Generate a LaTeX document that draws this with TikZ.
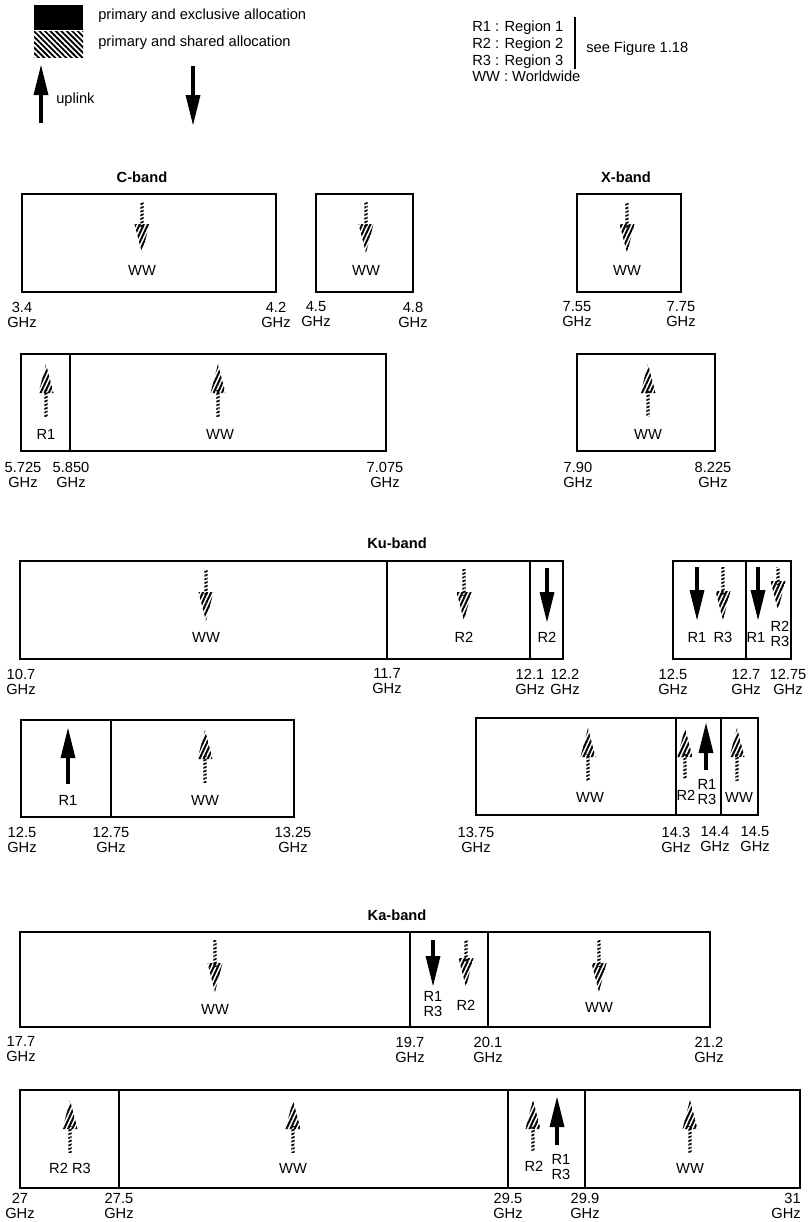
\documentclass[tikz,border=0pt]{standalone}
\usepackage{fontspec}
\setmainfont{Liberation Sans}
\usetikzlibrary{patterns.meta}

\tikzset{
  band/.style={draw, line width=0.9pt},
  txt/.style={inner sep=0pt, font=\fontsize{11}{11.25}\selectfont},
  freq/.style={txt, align=center},
  reg/.style={txt, align=center},
  title/.style={inner sep=0pt, font=\fontsize{11}{12}\selectfont\bfseries},
  headhatch/.style={pattern={Lines[angle=65,distance=2.8pt,line width=1.5pt]}},
  shafthatch/.style={pattern={Lines[angle=20,distance=2.6pt,line width=1.3pt]}},
  boxhatch/.style={pattern={Lines[angle=-45,distance=2.9pt,line width=1.4pt]}},
}

% arrows: x, top, bottom
\newcommand{\hatchdown}[3]{%
  \fill[shafthatch] (#1-1.7,#2) rectangle (#1+1.7,#3-26);
  \fill[headhatch] (#1-7.5,#3-29) -- (#1+7.5,#3-29) -- (#1,#3) -- cycle;}
\newcommand{\hatchup}[3]{%
  \fill[shafthatch] (#1-1.7,#2+26) rectangle (#1+1.7,#3);
  \fill[headhatch] (#1-7.5,#2+29) -- (#1+7.5,#2+29) -- (#1,#2) -- cycle;}
\newcommand{\soliddown}[3]{%
  \fill (#1-1.8,#2) rectangle (#1+1.8,#3-27);
  \fill (#1-7.5,#3-30) -- (#1+7.5,#3-30) -- (#1,#3) -- cycle;}
\newcommand{\solidup}[3]{%
  \fill (#1-1.8,#2+27) rectangle (#1+1.8,#3);
  \fill (#1-7.5,#2+30) -- (#1+7.5,#2+30) -- (#1,#2) -- cycle;}
% frequency label under a band edge
\newcommand{\freq}[4]{\node[freq] (#1) at (#2,#3) {#4\\GHz};}

\begin{document}
\begin{tikzpicture}[x=0.75pt, y=-0.75pt]
\useasboundingbox (0,0) rectangle (810,1222);

% legend
\fill (34,5) rectangle (83,30);
\fill[boxhatch] (34,31) rectangle (83,57);
\node[txt, anchor=west] (excl) at (98,16) {primary and exclusive allocation};
\node[txt, anchor=west] (shared) at (98,43) {primary and shared allocation};
\solidup{41}{65}{123}
\node[txt, anchor=west] (uplink) at (56,100) {uplink};
\soliddown{193}{66}{125}

\node[txt, anchor=north west, align=left, font=\fontsize{11}{12.5}\selectfont] (regions) at (472,21)
  {R1 : Region 1\\R2 : Region 2\\R3 : Region 3\\WW : Worldwide};
\draw[line width=1.3pt] (575,17) -- (575,69);
\node[txt, anchor=west] (seefig) at (586,49) {see Figure 1.18};

% C-band
\node[title] (cband) at (142,177) {C-band};
\draw[band] (22,194) rectangle (276,292);
\draw[band] (316,194) rectangle (413,292);
\hatchdown{142}{202}{253}
\node[reg] (cww1) at (142,270) {WW};
\hatchdown{366}{202}{253}
\node[reg] (cww2) at (366,270) {WW};
\freq{f34}{22}{314.5}{3.4}
\freq{f42}{276}{314.5}{4.2}
\freq{f45}{316}{314.5}{4.5}
\freq{f48}{413}{314.5}{4.8}

\draw[band] (21,354) rectangle (70,451);
\draw[band] (70,354) rectangle (386,451);
\hatchup{46}{364}{416}
\node[reg] (cr1) at (46,434) {R1};
\hatchup{218}{364}{416}
\node[reg] (cww3) at (220,434) {WW};
\freq{f5725}{23}{474.5}{5.725}
\freq{f5850}{71}{474.5}{5.850}
\freq{f7075}{385}{474.5}{7.075}

% X-band
\node[title] (xband) at (626,177) {X-band};
\draw[band] (577,194) rectangle (681,292);
\hatchdown{627}{202}{253}
\node[reg] (xww1) at (627,270) {WW};
\freq{f755}{577}{314.5}{7.55}
\freq{f775}{681}{314.5}{7.75}

\draw[band] (577,354) rectangle (715,451);
\hatchup{648}{364}{416}
\node[reg] (xww2) at (648,434) {WW};
\freq{f790}{578}{474.5}{7.90}
\freq{f8225}{713}{474.5}{8.225}

% Ku-band
\node[title] (kuband) at (397,543) {Ku-band};
\draw[band] (20,561) rectangle (387,659);
\draw[band] (387,561) rectangle (530,659);
\draw[band] (530,561) rectangle (563,659);
\hatchdown{206}{569}{621}
\node[reg] (kuww1) at (206,637) {WW};
\hatchdown{464}{569}{621}
\node[reg] (kur2a) at (464,637) {R2};
\soliddown{547}{568}{622}
\node[reg] (kur2b) at (547,637) {R2};
\freq{f107}{21}{681.5}{10.7}
\freq{f117}{387}{681.5}{11.7}
\freq{f121}{530}{681.5}{12.1}
\freq{f122}{565}{681.5}{12.2}

\draw[band] (673,561) rectangle (746,659);
\draw[band] (746,561) rectangle (791,659);
\soliddown{697}{567}{620}
\node[reg] (kur1a) at (697,637) {R1};
\hatchdown{723}{567}{620}
\node[reg] (kur3a) at (723,637) {R3};
\soliddown{758}{567}{620}
\node[reg] (kur1b) at (756,637) {R1};
\hatchdown{778}{567}{610}
\node[reg] (kur23) at (780,633.5) {R2\\R3};
\freq{f125a}{673}{681.5}{12.5}
\freq{f127}{746}{681.5}{12.7}
\freq{f1275a}{788}{681.5}{12.75}

\draw[band] (21,720) rectangle (111,817);
\draw[band] (111,720) rectangle (294,817);
\solidup{68}{728}{784}
\node[reg] (kur1c) at (68,800) {R1};
\hatchup{205}{730}{782}
\node[reg] (kuww2) at (205,800) {WW};
\freq{f125b}{22}{839.5}{12.5}
\freq{f1275b}{111}{839.5}{12.75}
\freq{f1325}{293}{839.5}{13.25}

\draw[band] (476,718) rectangle (676,815);
\draw[band] (676,718) rectangle (721,815);
\draw[band] (721,718) rectangle (758,815);
\hatchup{588}{728}{780}
\node[reg] (kuww3) at (590,797) {WW};
\hatchup{685}{728}{778}
\node[reg] (kur2c) at (686,795) {R2};
\solidup{706}{723}{770}
\node[reg] (kur13) at (707,792.5) {R1\\R3};
\hatchup{737}{728}{780}
\node[reg] (kuww4) at (739,797) {WW};
\freq{f1375}{476}{839.5}{13.75}
\freq{f143}{676}{839.5}{14.3}
\freq{f144}{715}{839.5}{14.4}
\freq{f145}{755}{839.5}{14.5}

% Ka-band
\node[title] (kaband) at (397,915) {Ka-band};
\draw[band] (20,932) rectangle (410,1027);
\draw[band] (410,932) rectangle (488,1027);
\draw[band] (488,932) rectangle (710,1027);
\hatchdown{215}{940}{992}
\node[reg] (kaww1) at (215,1009) {WW};
\soliddown{433}{940}{986}
\node[reg] (kar13a) at (433,1004.5) {R1\\R3};
\hatchdown{466}{940}{987}
\node[reg] (kar2a) at (466,1005) {R2};
\hatchdown{599}{940}{992}
\node[reg] (kaww2) at (599,1007) {WW};
\freq{f177}{21}{1049.5}{17.7}
\freq{f197}{410}{1049.5}{19.7}
\freq{f201}{488}{1049.5}{20.1}
\freq{f212}{709}{1049.5}{21.2}

\draw[band] (20,1090) rectangle (119,1188);
\draw[band] (119,1090) rectangle (508,1188);
\draw[band] (508,1090) rectangle (585,1188);
\draw[band] (585,1090) rectangle (800,1188);
\hatchup{70}{1100}{1152}
\node[reg] (kar23) at (70,1168) {R2 R3};
\hatchup{293}{1100}{1152}
\node[reg] (kaww3) at (293,1168) {WW};
\hatchup{533}{1100}{1150}
\node[reg] (kar2b) at (534,1166) {R2};
\solidup{557}{1097}{1145}
\node[reg] (kar13b) at (561,1167.5) {R1\\R3};
\hatchup{690}{1100}{1152}
\node[reg] (kaww4) at (690,1168) {WW};
\freq{f27}{20}{1206}{27}
\freq{f275}{119}{1206}{27.5}
\freq{f295}{508}{1206}{29.5}
\freq{f299}{585}{1206}{29.9}
\node[freq, anchor=east, align=right] (f31) at (801,1206) {31\\GHz};
\end{tikzpicture}
\end{document}
